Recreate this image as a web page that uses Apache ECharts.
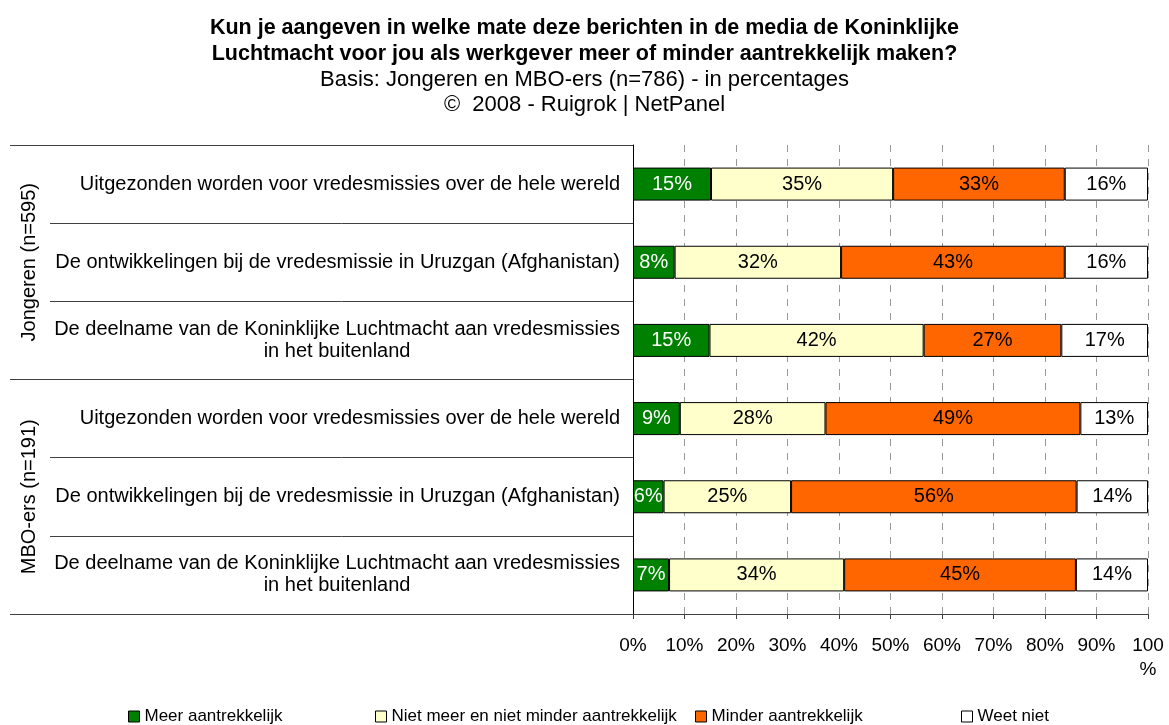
<!DOCTYPE html>
<html>
<head>
<meta charset="utf-8">
<script src="https://cdn.jsdelivr.net/npm/echarts@6/dist/echarts.min.js"></script>
<style>
  html, body { margin: 0; padding: 0; background: #fff; }
</style>
</head>
<body>
<div id="chart" style="width:1169px;height:725px;"></div>
<script>
// categories (top to bottom)
var categories = [
  'Uitgezonden worden voor vredesmissies over de hele wereld',
  'De ontwikkelingen bij de vredesmissie in Uruzgan (Afghanistan)',
  'De deelname van de Koninklijke Luchtmacht aan vredesmissies\nin het buitenland',
  'Uitgezonden worden voor vredesmissies over de hele wereld',
  'De ontwikkelingen bij de vredesmissie in Uruzgan (Afghanistan)',
  'De deelname van de Koninklijke Luchtmacht aan vredesmissies\nin het buitenland'
];
var groups = ['Jongeren (n=595)', 'MBO-ers (n=191)'];

// percentages as printed on the bars
var meer = [15, 8, 15, 9, 6, 7];
var neutraal = [35, 32, 42, 28, 25, 34];
var minder = [33, 43, 27, 49, 56, 45];
var weetNiet = [16, 16, 17, 13, 14, 14];

var xTicks = ['0%', '10%', '20%', '30%', '40%', '50%', '60%', '70%', '80%', '90%', '100\n%'];

var seriesNames = ['Meer aantrekkelijk', 'Niet meer en niet minder aantrekkelijk', 'Minder aantrekkelijk', 'Weet niet'];
var seriesColors = ['#008000', '#FFFFCC', '#FF6600', '#FFFFFF'];
var labelColors = ['#fff', '#000', '#000', '#000'];
var seriesData = [meer, neutraal, minder, weetNiet];

// 100% stacked: each row is scaled to its own total
var totals = categories.map(function (c, i) {
  return meer[i] + neutraal[i] + minder[i] + weetNiet[i];
});

var font = 'Liberation Sans, Arial, sans-serif';

let myChart = echarts.init(document.getElementById('chart'));

var series = seriesData.map(function (arr, s) {
  return {
    name: seriesNames[s],
    type: 'bar',
    stack: 'total',
    barWidth: 33,
    yAxisIndex: 0,
    itemStyle: { color: seriesColors[s], borderColor: '#000', borderWidth: 1 },
    label: {
      show: true,
      position: 'inside',
      color: labelColors[s],
      fontFamily: font,
      fontSize: 20,
      formatter: function (p) { return arr[p.dataIndex] + '%'; }
    },
    data: arr.map(function (v, i) { return v / totals[i] * 100; })
  };
});

var legendLeft = [128, 375, 695, 961];
var legends = seriesNames.map(function (n, i) {
  return {
    data: [n],
    left: legendLeft[i],
    top: 708,
    padding: 0,
    itemWidth: 11,
    itemHeight: 11,
    itemGap: 0,
    icon: 'rect',
    itemStyle: { borderColor: '#000', borderWidth: 1 },
    textStyle: { fontFamily: font, fontSize: 17, color: '#000' },
    selectedMode: false
  };
});

var option = {
  backgroundColor: '#fff',
  animation: false,
  title: {
    left: 'center',
    top: 10,
    text: 'Kun je aangeven in welke mate deze berichten in de media de Koninklijke\nLuchtmacht voor jou als werkgever meer of minder aantrekkelijk maken?',
    subtext: 'Basis: Jongeren en MBO-ers (n=786) - in percentages\n©  2008 - Ruigrok | NetPanel',
    itemGap: 0,
    textStyle: { fontFamily: font, fontSize: 21.5, fontWeight: 'bold', color: '#000', lineHeight: 26 },
    subtextStyle: { fontFamily: font, fontSize: 22, color: '#000', lineHeight: 25 }
  },
  legend: legends,
  grid: { left: 633, right: 21, top: 145, bottom: 111 },
  xAxis: {
    type: 'value',
    min: 0,
    max: 100,
    interval: 10,
    axisLine: { show: true, lineStyle: { color: '#404040' } },
    axisTick: { show: true, length: 5, lineStyle: { color: '#404040' } },
    axisLabel: {
      margin: 20,
      fontFamily: font,
      fontSize: 19,
      color: '#000',
      lineHeight: 24,
      formatter: function (v) { return xTicks[v / 10]; }
    },
    splitLine: { show: true, lineStyle: { color: '#999', type: [7, 7] } }
  },
  yAxis: [{
    type: 'category',
    inverse: true,
    data: categories,
    axisLine: { show: true, lineStyle: { color: '#000' } },
    axisTick: { show: true, interval: 0, length: 583, lineStyle: { color: '#404040' } },
    axisLabel: {
      interval: 0,
      margin: 13,
      color: '#000',
      formatter: function (v) {
        return v.split('\n').map(function (l) { return '{c|' + l + '}'; }).join('\n');
      },
      rich: {
        c: { align: 'center', fontFamily: font, fontSize: 20, color: '#000', lineHeight: 22 }
      }
    }
  }, {
    type: 'category',
    inverse: true,
    position: 'left',
    data: groups,
    axisLine: { show: false },
    axisTick: { show: true, interval: 0, length: 623, lineStyle: { color: '#404040' } },
    axisLabel: {
      interval: 0,
      rotate: 90,
      margin: 594,
      fontFamily: font,
      fontSize: 20,
      color: '#000'
    }
  }],
  series: series
};

myChart.setOption(option);
</script>
</body>
</html>
